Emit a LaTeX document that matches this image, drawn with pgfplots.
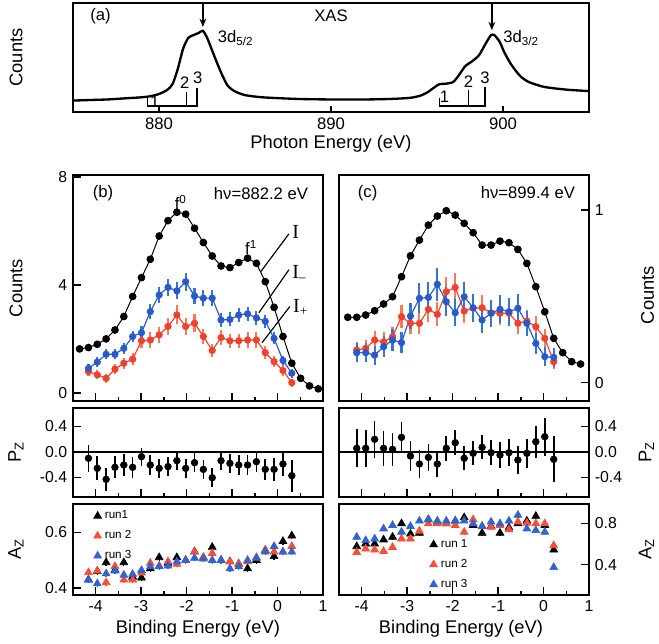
\documentclass[border=0pt]{standalone}
\usepackage{pgfplots}
\usepackage{pgfplotstable}
\pgfplotsset{compat=1.18}
\usetikzlibrary{arrows.meta}
\usepackage{fontspec}
\setmainfont{Liberation Sans}
\newfontfamily\seriffont{Liberation Serif}
\definecolor{cblue}{RGB}{40,90,200}
\definecolor{eblue}{RGB}{55,115,215}
\definecolor{cred}{RGB}{240,65,45}
\definecolor{ered}{RGB}{246,120,95}
\definecolor{tblue}{RGB}{50,100,205}
\definecolor{tred}{RGB}{245,80,55}

% ---------------- data ----------------
\pgfplotstableread{
x y
875 10.5
876 11
877 11.5
878 12.5
879 13.5
879.5 14.5
880 16.5
880.5 20.5
880.8 26
881.1 40
881.4 58
881.7 68
882.0 70.5
882.3 72.5
882.55 74.5
882.8 68
883.1 56
883.4 44
883.7 33
884.0 24
884.4 19
885 15.5
886 13.5
888 12
890 11.5
892 11.5
893.5 12
894.6 13
895.2 15
895.6 18
896.0 22.5
896.3 25.5
896.7 26
897.1 27.5
897.4 33
897.8 42
898.2 46.5
898.6 52
899.0 63
899.3 70.5
899.5 70.5
899.8 64.5
900.1 54
900.5 43
901.0 33
901.5 27.5
902.4 23
903.7 20.5
905 19.2
}\xas

\pgfplotstableread{
x y
-4.355 1.63
-4.160 1.68
-3.966 1.80
-3.771 2.00
-3.577 2.33
-3.382 2.83
-3.188 3.57
-2.993 4.27
-2.799 4.95
-2.604 5.81
-2.410 6.38
-2.215 6.69
-2.021 6.62
-1.826 6.10
-1.632 5.57
-1.437 5.07
-1.243 4.70
-1.048 4.64
-0.854 4.83
-0.659 4.99
-0.465 4.80
-0.270 4.12
-0.076 3.17
0.119 2.09
0.314 1.10
0.508 0.54
0.703 0.26
0.897 0.15
}\bI

\pgfplotstableread{
x y e
-4.160 0.91 0.17
-3.966 1.14 0.18
-3.771 1.43 0.19
-3.577 1.43 0.19
-3.382 1.65 0.20
-3.188 2.09 0.22
-2.993 2.23 0.23
-2.799 3.01 0.27
-2.604 3.63 0.30
-2.410 3.91 0.31
-2.215 3.78 0.31
-2.021 4.12 0.33
-1.826 3.59 0.30
-1.632 3.51 0.30
-1.437 3.51 0.30
-1.243 2.70 0.25
-1.048 2.72 0.26
-0.854 2.88 0.26
-0.659 2.93 0.27
-0.465 2.78 0.26
-0.270 2.65 0.25
-0.076 2.02 0.22
0.119 1.20 0.18
0.314 0.73 0.16
}\bminus

\pgfplotstableread{
x y e
-4.160 0.79 0.18
-3.966 0.67 0.17
-3.771 0.54 0.16
-3.577 0.88 0.19
-3.382 1.10 0.21
-3.188 1.25 0.22
-2.993 1.93 0.27
-2.799 1.96 0.28
-2.604 2.15 0.29
-2.410 2.46 0.32
-2.215 2.89 0.35
-2.021 2.46 0.32
-1.826 2.58 0.33
-1.632 2.09 0.29
-1.437 1.57 0.25
-1.243 2.05 0.28
-1.048 1.93 0.27
-0.854 1.93 0.27
-0.659 1.96 0.28
-0.465 1.96 0.28
-0.270 1.49 0.24
-0.076 1.16 0.21
0.119 0.83 0.19
0.314 0.38 0.15
}\bplus

\pgfplotstableread{
x y
-4.307 0.379
-4.110 0.379
-3.913 0.392
-3.716 0.417
-3.519 0.456
-3.322 0.498
-3.125 0.614
-2.928 0.735
-2.731 0.826
-2.534 0.913
-2.337 0.965
-2.140 0.996
-1.943 0.971
-1.746 0.923
-1.549 0.869
-1.352 0.797
-1.155 0.797
-0.958 0.820
-0.761 0.811
-0.564 0.772
-0.367 0.691
-0.170 0.556
0.027 0.411
0.224 0.257
0.421 0.174
0.618 0.122
0.815 0.108
}\cI

\pgfplotstableread{
x y e
-4.110 0.189 0.049
-3.913 0.199 0.050
-3.716 0.247 0.055
-3.519 0.237 0.054
-3.322 0.266 0.057
-3.125 0.382 0.068
-2.928 0.344 0.064
-2.731 0.344 0.064
-2.534 0.425 0.073
-2.337 0.396 0.070
-2.140 0.527 0.083
-1.943 0.552 0.085
-1.746 0.415 0.072
-1.549 0.431 0.073
-1.352 0.434 0.073
-1.155 0.405 0.071
-0.958 0.402 0.070
-0.761 0.402 0.070
-0.564 0.344 0.064
-0.367 0.357 0.066
-0.170 0.324 0.062
0.027 0.257 0.056
0.224 0.122 0.042
}\cplus

\pgfplotstableread{
x y e
-4.110 0.174 0.055
-3.913 0.174 0.055
-3.716 0.160 0.055
-3.519 0.208 0.060
-3.322 0.247 0.063
-3.125 0.232 0.062
-2.928 0.386 0.077
-2.731 0.489 0.087
-2.534 0.494 0.088
-2.337 0.570 0.095
-2.140 0.469 0.085
-1.943 0.405 0.079
-1.746 0.498 0.088
-1.549 0.434 0.082
-1.352 0.363 0.075
-1.155 0.402 0.079
-0.958 0.425 0.081
-0.761 0.411 0.080
-0.564 0.431 0.082
-0.367 0.344 0.073
-0.170 0.228 0.061
0.027 0.151 0.054
0.224 0.147 0.054
}\cminus

\pgfplotstableread{
x y e
-4.160 -0.099 0.21
-3.966 -0.256 0.19
-3.771 -0.429 0.18
-3.577 -0.240 0.17
-3.382 -0.204 0.17
-3.188 -0.240 0.16
-2.993 -0.073 0.14
-2.799 -0.204 0.15
-2.604 -0.256 0.15
-2.410 -0.230 0.15
-2.215 -0.136 0.15
-2.021 -0.256 0.15
-1.826 -0.167 0.15
-1.632 -0.272 0.15
-1.437 -0.403 0.15
-1.243 -0.136 0.15
-1.048 -0.178 0.15
-0.854 -0.204 0.15
-0.659 -0.204 0.15
-0.465 -0.152 0.16
-0.270 -0.272 0.17
-0.076 -0.272 0.18
0.119 -0.188 0.19
0.314 -0.371 0.25
}\bpz

\pgfplotstableread{
x y e
-4.110 0.058 0.30
-3.913 0.058 0.29
-3.716 0.199 0.29
-3.519 0.058 0.27
-3.322 0.042 0.26
-3.125 0.230 0.24
-2.928 -0.063 0.23
-2.731 -0.188 0.22
-2.534 -0.084 0.21
-2.337 -0.188 0.20
-2.140 0.058 0.20
-1.943 0.146 0.20
-1.746 -0.099 0.19
-1.549 -0.021 0.19
-1.352 0.073 0.19
-1.155 -0.010 0.20
-0.958 -0.047 0.20
-0.761 -0.010 0.21
-0.564 -0.126 0.22
-0.367 -0.021 0.23
-0.170 0.162 0.25
0.027 0.240 0.30
0.224 -0.115 0.36
}\cpz

\pgfplotstableread{
x k r b
-4.160 0.430 0.456 0.430
-3.966 0.460 0.462 0.416
-3.771 0.492 0.420 0.452
-3.577 0.465 0.478 0.462
-3.382 0.492 0.430 0.447
-3.188 0.440 0.430 0.450
-2.993 0.437 0.455 0.464
-2.799 0.470 0.490 0.477
-2.604 0.510 0.480 0.477
-2.410 0.490 0.495 0.480
-2.215 0.510 0.486 0.495
-2.021 0.500 0.500 0.500
-1.826 0.531 0.530 0.508
-1.632 0.510 0.510 0.505
-1.437 0.547 0.525 0.500
-1.243 0.500 0.500 0.500
-1.048 0.495 0.495 0.470
-0.854 0.487 0.486 0.477
-0.659 0.470 0.495 0.500
-0.465 0.500 0.510 0.508
-0.270 0.536 0.535 0.530
-0.076 0.514 0.530 0.550
0.119 0.568 0.530 0.530
0.314 0.588 0.550 0.530
}\baz

\pgfplotstableread{
x k r b
-4.110 0.577 0.521 0.669
-3.913 0.603 0.554 0.636
-3.716 0.603 0.545 0.652
-3.519 0.643 0.531 0.750
-3.322 0.669 0.570 0.783
-3.125 0.800 0.652 0.718
-2.928 0.700 0.652 0.774
-2.731 0.708 0.728 0.826
-2.534 0.839 0.800 0.839
-2.337 0.816 0.800 0.826
-2.140 0.800 0.800 0.826
-1.943 0.826 0.783 0.826
-1.746 0.859 0.718 0.826
-1.549 0.783 0.839 0.800
-1.352 0.708 0.774 0.774
-1.155 0.774 0.767 0.816
-0.958 0.708 0.783 0.800
-0.761 0.760 0.741 0.826
-0.564 0.800 0.816 0.882
-0.367 0.826 0.806 0.750
-0.170 0.872 0.800 0.734
0.027 0.783 0.800 0.718
0.224 0.545 0.587 0.374
}\caz

\tikzset{lbl/.style={font=\fontsize{10}{12}\selectfont}}
\pgfplotsset{
  base/.style={scale only axis, anchor=north west,
    axis line style={line width=1.1pt},
    every tick/.append style={line width=0.9pt, black},
    tick align=inside, major tick length=4.8pt, minor tick length=2.6pt,
    /pgf/number format/assume math mode=true,
    tick label style={font=\fontsize{9.5}{11}\selectfont},
    xtick pos=left},
  panel/.style={base, width=150pt, xmin=-4.5, xmax=1,
    xtick={-4,-3,-2,-1,0,1}, minor x tick num=1},
  nolab/.style={xticklabels={}},
  onedec/.style={yticklabel style={/pgf/number format/.cd, fixed, fixed zerofill, precision=1}},
  azleg/.style={legend cell align=left,
    legend image code/.code={\draw[mark repeat=2,mark phase=2,##1] plot coordinates {(0cm,0cm) (0.12cm,0cm) (0.24cm,0cm)};},
    legend style={draw=none, fill=none, font=\fontsize{7}{8}\selectfont, row sep=1.6pt, inner sep=1pt}},
}

\begin{document}
\begin{tikzpicture}
\useasboundingbox (0pt,0pt) rectangle (395.4pt,-385.8pt);

% ---------- (a) XAS ----------
\begin{axis}[base, at={(43.8pt,-1.8pt)}, width=309.6pt, height=65.4pt,
  xmin=875, xmax=905, ymin=0, ymax=100, xtick={880,890,900}, ytick=\empty,
  major tick length=3.6pt, tick label style={font=\fontsize{10}{12}\selectfont}]
\addplot[black, line width=1.4pt, smooth, tension=0.4] table {\xas};
\node[lbl] at (axis cs:876.6,88) {(a)};
\node[lbl] at (axis cs:890,88) {XAS};
\draw[line width=0.9pt,-{Stealth[length=5pt,width=4pt]}] (axis cs:882.55,99) -- (axis cs:882.55,78);
\draw[line width=0.9pt,-{Stealth[length=5pt,width=4pt]}] (axis cs:899.35,99) -- (axis cs:899.35,75);
\node[lbl, anchor=west, inner sep=1pt] at (axis cs:883.3,68) {3d\textsubscript{5/2}};
\node[lbl, anchor=west, inner sep=1pt] at (axis cs:899.9,68) {3d\textsubscript{3/2}};
\draw[line width=0.8pt] (axis cs:879.35,12.5) -- (axis cs:879.35,5.5) -- (axis cs:882.2,5.5) -- (axis cs:882.2,22);
\draw[line width=0.8pt] (axis cs:881.6,5.5) -- (axis cs:881.6,18);
\node[lbl] at (axis cs:879.75,9) {1};
\node[lbl] at (axis cs:881.5,26.5) {2};
\node[lbl] at (axis cs:882.25,31.5) {3};
\draw[line width=0.8pt] (axis cs:896.3,13) -- (axis cs:896.3,5.5) -- (axis cs:898.95,5.5) -- (axis cs:898.95,23);
\draw[line width=0.8pt] (axis cs:898.0,5.5) -- (axis cs:898.0,20);
\node[lbl] at (axis cs:896.6,14) {1};
\node[lbl] at (axis cs:898.0,27.5) {2};
\node[lbl] at (axis cs:898.95,31) {3};
\end{axis}

% ---------- (b) spectra ----------
\begin{axis}[panel, nolab, at={(43.8pt,-105pt)}, height=135.6pt,
  ymin=-0.3, ymax=8.07, ytick={0,4,8}, ytick pos=left]
\addplot[black, line width=0.6pt, mark=*, mark size=2pt] table {\bI};
\addplot[cred, line width=0.7pt, mark=*, mark size=1.8pt,
  error bars/.cd, y dir=both, y explicit, error mark=none,
  error bar style={line width=1.3pt, ered}] table[x index=0, y index=1, y error index=2] {\bplus};
\addplot[cblue, line width=0.7pt, mark=*, mark size=1.8pt,
  error bars/.cd, y dir=both, y explicit, error mark=none,
  error bar style={line width=1.3pt, eblue}] table[x index=0, y index=1, y error index=2] {\bminus};
\node[lbl] at (axis cs:-3.84,7.39) {(b)};
\node[lbl, anchor=east] at (axis cs:0.80,7.39) {hν=882.2 eV};
\node[lbl] at (axis cs:-2.13,7.04) {f\textsuperscript{0}};
\node[lbl] at (axis cs:-0.58,5.39) {f\textsuperscript{1}};
\draw[line width=0.7pt] (axis cs:-0.37,4.49) -- (axis cs:0.25,5.89);
\draw[line width=0.7pt] (axis cs:-0.41,2.97) -- (axis cs:0.25,4.56);
\draw[line width=0.7pt] (axis cs:-0.34,1.86) -- (axis cs:0.27,3.20);
\node[anchor=base west, inner sep=1pt, font=\fontsize{12}{14}\seriffont] at (axis cs:0.28,5.70) {I};
\node[anchor=base west, inner sep=1pt, font=\fontsize{12}{14}\seriffont] at (axis cs:0.28,4.25) {I\textsubscript{\textendash}};
\node[anchor=base west, inner sep=1pt, font=\fontsize{12}{14}\seriffont] at (axis cs:0.30,2.97) {I\textsubscript{+}};
\end{axis}

% ---------- (b) Pz ----------
\begin{axis}[panel, nolab, onedec, at={(43.8pt,-244.8pt)}, height=53.4pt,
  ymin=-0.706, ymax=0.69, ytick={-0.4,0,0.4}, ytick pos=left]
\addplot[black, line width=0.9pt] coordinates {(-4.5,0) (1,0)};
\addplot[black, only marks, mark=*, mark size=2pt,
  error bars/.cd, y dir=both, y explicit, error mark=none,
  error bar style={line width=1pt, black}] table[x index=0, y index=1, y error index=2] {\bpz};
\end{axis}

% ---------- (b) Az ----------
\begin{axis}[panel, onedec, azleg, at={(43.8pt,-302.4pt)}, height=54.6pt,
  ymin=0.375, ymax=0.702, ytick={0.4,0.6}, ytick pos=left,
  xticklabel style={/pgf/number format/.cd, fixed, precision=0},
  legend style={at={(0.075,0.985)}, anchor=north west}]
\addplot[black, only marks, mark=triangle*, mark size=2.7pt,
  error bars/.cd, y dir=both, y fixed=0.012, error mark=none,
  error bar style={line width=0.8pt, black}] table[x index=0, y index=1] {\baz};
\addplot[tred, only marks, mark=triangle*, mark size=2.7pt,
  error bars/.cd, y dir=both, y fixed=0.012, error mark=none,
  error bar style={line width=0.8pt, tred}] table[x index=0, y index=2] {\baz};
\addplot[tblue, only marks, mark=triangle*, mark size=2.7pt,
  error bars/.cd, y dir=both, y fixed=0.012, error mark=none,
  error bar style={line width=0.8pt, tblue}] table[x index=0, y index=3] {\baz};
\legend{run1, run 2, run 3}
\end{axis}

% ---------- (c) spectra ----------
\begin{axis}[panel, nolab, at={(203.4pt,-105pt)}, height=135.6pt,
  ymin=-0.106, ymax=1.203, ytick={0,1}, ytick pos=right, yticklabel pos=right]
\addplot[black, line width=0.6pt, mark=*, mark size=2pt] table {\cI};
\addplot[cred, line width=0.7pt, mark=*, mark size=1.8pt,
  error bars/.cd, y dir=both, y explicit, error mark=none,
  error bar style={line width=1.3pt, ered}] table[x index=0, y index=1, y error index=2] {\cplus};
\addplot[cblue, line width=0.7pt, mark=*, mark size=1.8pt,
  error bars/.cd, y dir=both, y explicit, error mark=none,
  error bar style={line width=1.3pt, eblue}] table[x index=0, y index=1, y error index=2] {\cminus};
\node[lbl] at (axis cs:-3.87,1.10) {(c)};
\node[lbl, anchor=east] at (axis cs:0.82,1.10) {hν=899.4 eV};
\end{axis}

% ---------- (c) Pz ----------
\begin{axis}[panel, nolab, onedec, at={(203.4pt,-244.8pt)}, height=53.4pt,
  ymin=-0.706, ymax=0.69, ytick={-0.4,0,0.4}, ytick pos=right, yticklabel pos=right]
\addplot[black, line width=0.9pt] coordinates {(-4.5,0) (1,0)};
\addplot[black, only marks, mark=*, mark size=2pt,
  error bars/.cd, y dir=both, y explicit, error mark=none,
  error bar style={line width=1pt, black}] table[x index=0, y index=1, y error index=2] {\cpz};
\end{axis}

% ---------- (c) Az ----------
\begin{axis}[panel, onedec, azleg, at={(203.4pt,-302.4pt)}, height=54.6pt,
  ymin=0.105, ymax=0.99, ytick={0.4,0.8}, ytick pos=right, yticklabel pos=right,
  xticklabel style={/pgf/number format/.cd, fixed, precision=0},
  legend style={at={(0.355,0.67)}, anchor=north west}]
\addplot[black, only marks, mark=triangle*, mark size=2.7pt,
  error bars/.cd, y dir=both, y fixed=0.025, error mark=none,
  error bar style={line width=0.8pt, black}] table[x index=0, y index=1] {\caz};
\addplot[tred, only marks, mark=triangle*, mark size=2.7pt,
  error bars/.cd, y dir=both, y fixed=0.025, error mark=none,
  error bar style={line width=0.8pt, tred}] table[x index=0, y index=2] {\caz};
\addplot[tblue, only marks, mark=triangle*, mark size=2.7pt,
  error bars/.cd, y dir=both, y fixed=0.025, error mark=none,
  error bar style={line width=0.8pt, tblue}] table[x index=0, y index=3] {\caz};
\legend{run 1, run 2, run 3}
\end{axis}

% ---------- axis titles ----------
\begin{scope}[font=\fontsize{11}{13}\selectfont]
\node[rotate=90] at (9.6pt,-34.5pt) {Counts};
\node at (198.6pt,-86pt) {Photon Energy (eV)};
\node[rotate=90] at (9.6pt,-172.8pt) {Counts};
\node[rotate=90] at (9.6pt,-271.2pt) {P\textsubscript{Z}};
\node[rotate=90] at (9.6pt,-329.7pt) {A\textsubscript{Z}};
\node at (118.8pt,-377.4pt) {Binding Energy (eV)};
\node at (276.6pt,-377.4pt) {Binding Energy (eV)};
\node[rotate=90] at (388.6pt,-177pt) {Counts};
\node[rotate=90] at (387.8pt,-271.2pt) {P\textsubscript{Z}};
\node[rotate=90] at (387.8pt,-329.7pt) {A\textsubscript{Z}};
\end{scope}
\end{tikzpicture}
\end{document}
